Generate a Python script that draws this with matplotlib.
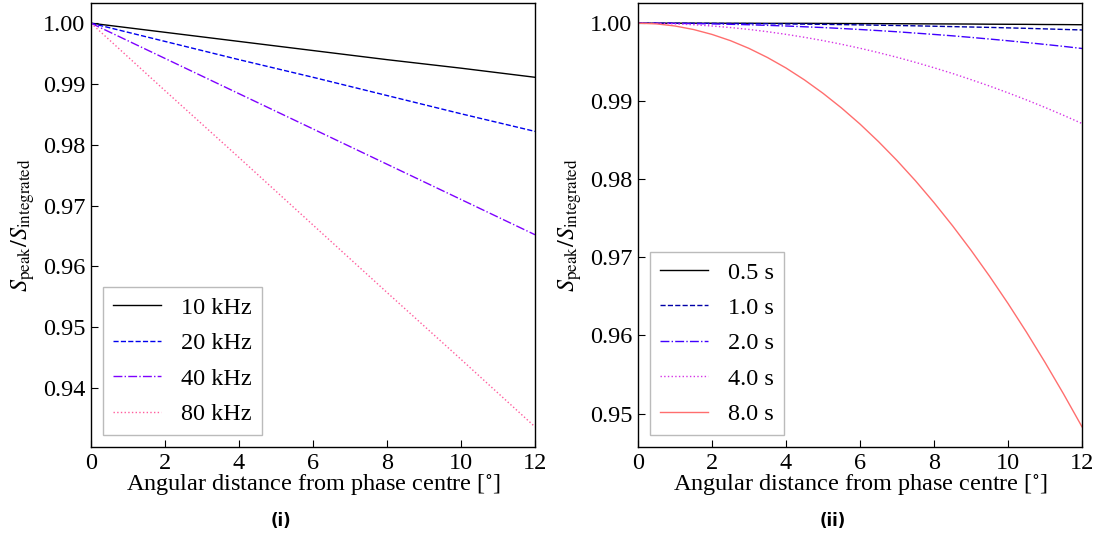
import matplotlib
matplotlib.use("Agg")
import matplotlib.pyplot as plt

plt.rcParams['font.family'] = ['Liberation Serif', 'DejaVu Serif']
plt.rcParams['mathtext.fontset'] = 'stix'
plt.rcParams['font.size'] = 17.5

# left panel: bandwidth smearing
x_bw = [0, 2, 4, 6, 8, 10, 12]
bw_labels = ['10 kHz', '20 kHz', '40 kHz', '80 kHz']
bw_10 = [1.0, 0.9985, 0.9970, 0.9955, 0.9940, 0.9926, 0.9911]
bw_20 = [1.0, 0.9970, 0.9940, 0.9911, 0.9881, 0.9851, 0.9822]
bw_40 = [1.0, 0.9942, 0.9884, 0.9826, 0.9768, 0.9710, 0.9652]
bw_80 = [1.0, 0.9889, 0.9779, 0.9668, 0.9557, 0.9447, 0.9336]

# right panel: time smearing
x_t = [0, 0.5, 1, 1.5, 2, 2.5, 3, 3.5, 4, 4.5, 5, 5.5, 6,
       6.5, 7, 7.5, 8, 8.5, 9, 9.5, 10, 10.5, 11, 11.5, 12]
t_labels = ['0.5 s', '1.0 s', '2.0 s', '4.0 s', '8.0 s']
t_05 = [1.0, 1.0, 1.0, 1.0, 0.99999, 0.99999, 0.99999, 0.99998, 0.99998, 0.99998, 0.99997, 0.99996, 0.99995,
        0.99994, 0.99993, 0.99992, 0.99991, 0.9999, 0.99989, 0.99987, 0.99986, 0.99985, 0.99983, 0.99982, 0.9998]
t_10 = [1.0, 1.0, 0.99999, 0.99999, 0.99998, 0.99996, 0.99995, 0.99993, 0.9999, 0.99988, 0.99985, 0.99982, 0.99978,
        0.99974, 0.9997, 0.99966, 0.99961, 0.99956, 0.99951, 0.99946, 0.9994, 0.99934, 0.99927, 0.9992, 0.99913]
t_20 = [1.0, 0.99999, 0.99998, 0.99995, 0.99991, 0.99986, 0.9998, 0.99972, 0.99964, 0.99954, 0.99944, 0.99932, 0.99919,
        0.99905, 0.9989, 0.99873, 0.99856, 0.99838, 0.99818, 0.99797, 0.99775, 0.99752, 0.99728, 0.99703, 0.99676]
t_40 = [1.0, 0.99998, 0.99991, 0.9998, 0.99964, 0.99944, 0.9992, 0.99891, 0.99857, 0.99819, 0.99777, 0.9973, 0.99679,
        0.99623, 0.99563, 0.99498, 0.99429, 0.99356, 0.99277, 0.99195, 0.99108, 0.99017, 0.98921, 0.9882, 0.98715]
t_80 = [1.0, 0.99991, 0.99964, 0.99919, 0.99856, 0.99776, 0.99677, 0.9956, 0.99426, 0.99273, 0.99102, 0.98914, 0.98708,
        0.98483, 0.98241, 0.97981, 0.97702, 0.97406, 0.97092, 0.9676, 0.9641, 0.96042, 0.95656, 0.95252, 0.9483]

fig = plt.figure(figsize=(11.09, 5.39), dpi=100)
ax1 = fig.add_axes([91/1109, 92/539, 444/1109, 444/539])
ax2 = fig.add_axes([638/1109, 92/539, 444/1109, 444/539])

bw_styles = [('#000000', '-'), ('#0000ee', '--'), ('#7f00ff', '-.'), ('#ff5c9d', ':')]
for ys, lab, (c, ls) in zip([bw_10, bw_20, bw_40, bw_80], bw_labels, bw_styles):
    ax1.plot(x_bw, ys, color=c, linestyle=ls, lw=1.0, label=lab)

t_styles = [('#000000', '-'), ('#0000a8', '--'), ('#4000ff', '-.'), ('#d633e6', ':'), ('#ff6e6e', '-')]
for ys, lab, (c, ls) in zip([t_05, t_10, t_20, t_40, t_80], t_labels, t_styles):
    ax2.plot(x_t, ys, color=c, linestyle=ls, lw=1.0, label=lab)

for ax in (ax1, ax2):
    ax.set_xlim(0, 12)
    ax.set_xticks([0, 2, 4, 6, 8, 10, 12])
    ax.tick_params(direction='in', length=5, labelsize=17.5, top=False, right=False, pad=4)
    ax.set_xlabel(r'Angular distance from phase centre [$^{\circ}$]', fontsize=17.5, labelpad=-1)
    ax.set_ylabel(r'$S_\mathrm{peak}/S_\mathrm{integrated}$', fontsize=17.5, labelpad=4)
    for s in ax.spines.values():
        s.set_linewidth(1.0)
    leg = ax.legend(loc='lower left', fancybox=False, edgecolor='#aaaaaa',
                    fontsize=17.5, handlelength=2.0, labelspacing=0.55, borderpad=0.4,
                    handletextpad=0.8, borderaxespad=0.5)
    leg.get_frame().set_linewidth(1.0)

ax1.set_yticks([0.94, 0.95, 0.96, 0.97, 0.98, 0.99, 1.00])
ax1.set_yticklabels(['0.94', '0.95', '0.96', '0.97', '0.98', '0.99', '1.00'])
ax2.set_yticks([0.95, 0.96, 0.97, 0.98, 0.99, 1.00])
ax2.set_yticklabels(['0.95', '0.96', '0.97', '0.98', '0.99', '1.00'])

fig.text(281/1109, 1 - 521/539, '(i)', ha='center', va='center',
         fontsize=12, fontweight='bold', family='DejaVu Sans')
fig.text(833/1109, 1 - 521/539, '(ii)', ha='center', va='center',
         fontsize=12, fontweight='bold', family='DejaVu Sans')

fig.savefig('out.png', dpi=100)
